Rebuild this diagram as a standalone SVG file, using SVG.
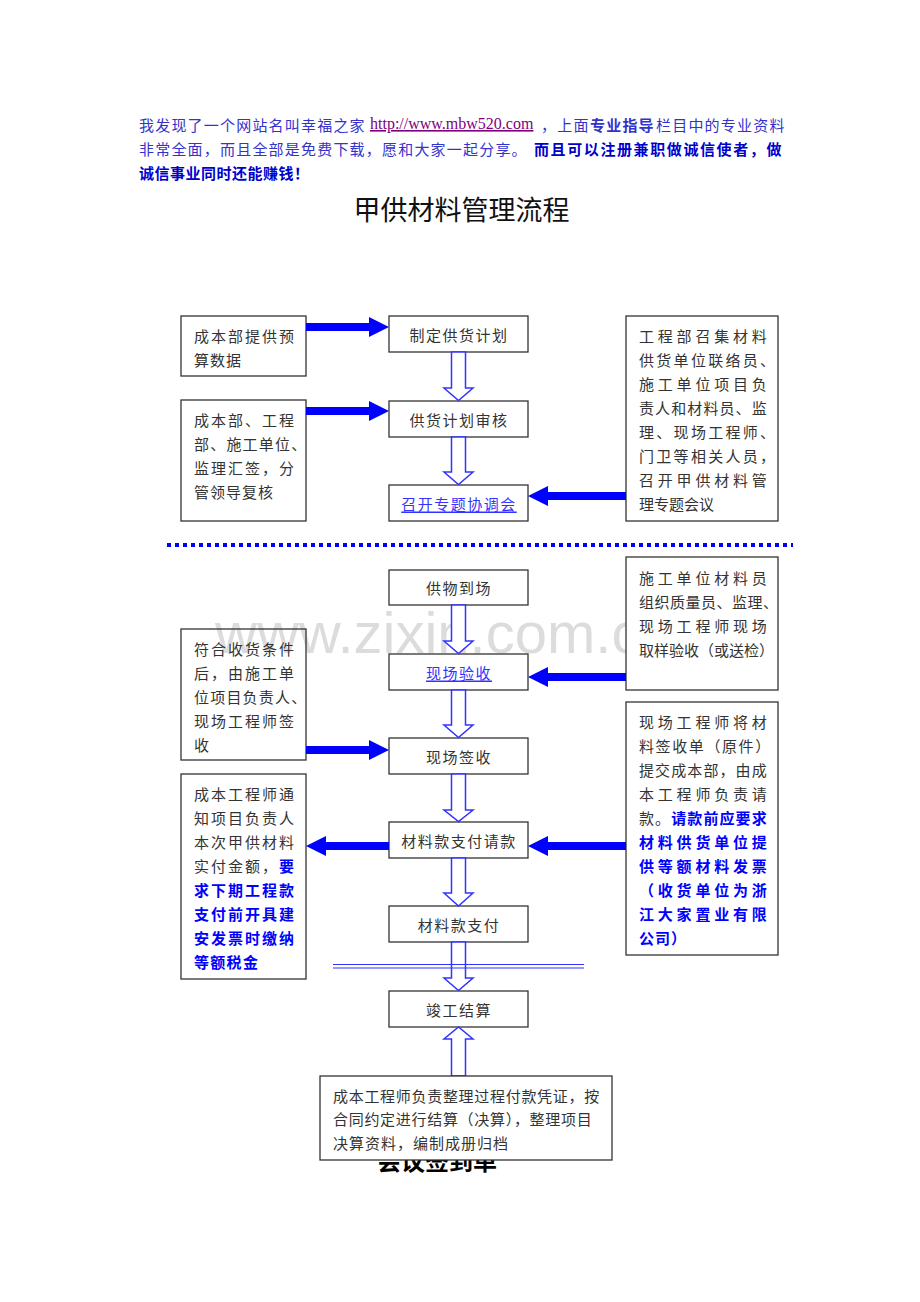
<svg xmlns="http://www.w3.org/2000/svg" width="920" height="1302" viewBox="0 0 920 1302">
<defs>
<style>
.box{fill:#fff;stroke:#333;stroke-width:1.3}
.boxn{fill:none;stroke:#333;stroke-width:1.3}
.t{font-family:"Noto Sans CJK SC",sans-serif;font-size:15px;fill:#333;dominant-baseline:central}
.c{text-anchor:middle;letter-spacing:1.5px}
.bb{font-weight:bold;fill:#0000ff}
.link{fill:#3333ff;text-decoration:underline}
.hd{font-family:"Noto Sans CJK SC",sans-serif;font-size:15px;fill:#3333cc;letter-spacing:1.2px;dominant-baseline:central}
.hb{font-weight:bold;fill:#0000cc}
.thick{fill:#0000ff}
.hollow{fill:#fff;stroke:#3333ff;stroke-width:1.5}
</style>
</defs>
<rect width="920" height="1302" fill="#fff"/>

<g id="watermark">
<text x="215" y="653" font-family="Liberation Sans, sans-serif" font-size="58" fill="#dcdcdc">www.zixin.com.cn</text>
</g>

<g id="header">
<text class="hd" x="139" y="124">我发现了一个网站名叫幸福之家</text>
<text x="370" y="129" font-family="Liberation Serif, serif" font-size="16" fill="#800080" text-decoration="underline">http://www.mbw520.com</text>
<text class="hd" x="541" y="124">，上面</text>
<text class="hd" x="590" y="124" font-weight="bold" fill="#ff6600">专业指导</text>
<text class="hd" x="656" y="124">栏目中的专业资料</text>
<text class="hd" x="139" y="148">非常全面，而且全部是免费下载，愿和大家一起分享。</text>
<text class="hd hb" x="534" y="148" style="letter-spacing:1.6px">而且可以注册兼职做诚信使者，做</text>
<text class="hd hb" x="139" y="172" style="letter-spacing:0.5px">诚信事业同时还能赚钱！</text>
</g>

<g id="title">
<text x="461.5" y="208" text-anchor="middle" font-family="Noto Sans CJK SC, sans-serif" font-size="27" fill="#111" dominant-baseline="central">甲供材料管理流程</text>
</g>

<g id="separator">
<line x1="167" y1="545" x2="793" y2="545" stroke="#0000ff" stroke-width="4" stroke-dasharray="4 4"/>
</g>

<g id="n-a1">
<rect class="box" x="181" y="316" width="125" height="60"/>
<text class="t" x="194" y="335" letter-spacing="2">成本部提供预</text>
<text class="t" x="194" y="359" letter-spacing="1">算数据</text>
</g>
<g id="n-a2">
<rect class="box" x="181" y="400" width="125" height="121"/>
<text class="t" x="194" y="419" letter-spacing="2">成本部、工程</text>
<text class="t" x="194" y="443" letter-spacing="1.2">部、施工单位、</text>
<text class="t" x="194" y="467" letter-spacing="2">监理汇签，分</text>
<text class="t" x="194" y="491" letter-spacing="1">管领导复核</text>
</g>
<g id="n-c1">
<rect class="box" x="389" y="316" width="139" height="36"/>
<text class="t c" x="459" y="334">制定供货计划</text>
</g>
<g id="n-c2">
<rect class="box" x="389" y="401" width="139" height="36"/>
<text class="t c" x="459" y="419">供货计划审核</text>
</g>
<g id="n-c3">
<rect class="box" x="389" y="485" width="139" height="36"/>
<text class="t c link" x="459" y="503">召开专题协调会</text>
</g>
<g id="n-r1">
<rect class="box" x="626" y="316" width="152" height="205"/>
<text class="t" x="639" y="335" letter-spacing="3.8">工程部召集材料</text>
<text class="t" x="639" y="359" letter-spacing="2.3">供货单位联络员、</text>
<text class="t" x="639" y="383" letter-spacing="3.8">施工单位项目负</text>
<text class="t" x="639" y="407" letter-spacing="1.1">责人和材料员、监</text>
<text class="t" x="639" y="431" letter-spacing="2.3">理、现场工程师、</text>
<text class="t" x="639" y="455" letter-spacing="2.3">门卫等相关人员，</text>
<text class="t" x="639" y="479" letter-spacing="3.8">召开甲供材料管</text>
<text class="t" x="639" y="503">理专题会议</text>
</g>

<g id="n-c4">
<rect class="box" x="389" y="570" width="139" height="35"/>
<text class="t c" x="459" y="587">供物到场</text>
</g>
<g id="n-l1">
<rect class="boxn" x="181" y="629" width="125" height="131"/>
<text class="t" x="194" y="648" letter-spacing="2">符合收货条件</text>
<text class="t" x="194" y="672" letter-spacing="2">后，由施工单</text>
<text class="t" x="194" y="696" letter-spacing="1.2">位项目负责人、</text>
<text class="t" x="194" y="720" letter-spacing="2">现场工程师签</text>
<text class="t" x="194" y="744">收</text>
</g>
<g id="n-r2">
<rect class="box" x="626" y="557" width="152" height="133"/>
<text class="t" x="639" y="577" letter-spacing="3.8">施工单位材料员</text>
<text class="t" x="639" y="601" letter-spacing="0.5">组织质量员、监理、</text>
<text class="t" x="639" y="625" letter-spacing="3.8">现场工程师现场</text>
<text class="t" x="639" y="649">取样验收（或送检）</text>
</g>
<g id="n-c5">
<rect class="box" x="389" y="654" width="139" height="36"/>
<text class="t c link" x="459" y="672">现场验收</text>
</g>
<g id="n-c6">
<rect class="box" x="389" y="738" width="139" height="36"/>
<text class="t c" x="459" y="756">现场签收</text>
</g>
<g id="n-c7">
<rect class="box" x="389" y="822" width="139" height="36"/>
<text class="t c" x="459" y="840">材料款支付请款</text>
</g>
<g id="n-c8">
<rect class="box" x="389" y="906" width="139" height="36"/>
<text class="t c" x="459" y="924">材料款支付</text>
</g>
<g id="n-c9">
<rect class="box" x="389" y="991" width="139" height="36"/>
<text class="t c" x="459" y="1009">竣工结算</text>
</g>
<g id="n-l2">
<rect class="box" x="181" y="774" width="125" height="205"/>
<text class="t" x="194" y="793" letter-spacing="2">成本工程师通</text>
<text class="t" x="194" y="817" letter-spacing="2">知项目负责人</text>
<text class="t" x="194" y="841" letter-spacing="2">本次甲供材料</text>
<text class="t" x="194" y="865" letter-spacing="2">实付金额，<tspan class="bb">要</tspan></text>
<text class="t bb" x="194" y="889" letter-spacing="2">求下期工程款</text>
<text class="t bb" x="194" y="913" letter-spacing="2">支付前开具建</text>
<text class="t bb" x="194" y="937" letter-spacing="2">安发票时缴纳</text>
<text class="t bb" x="194" y="961" letter-spacing="1.3">等额税金</text>
</g>
<g id="n-r3">
<rect class="box" x="626" y="702" width="152" height="253"/>
<text class="t" x="639" y="721" letter-spacing="3.8">现场工程师将材</text>
<text class="t" x="639" y="745" letter-spacing="1.6">料签收单（原件）</text>
<text class="t" x="639" y="769" letter-spacing="1.1">提交成本部，由成</text>
<text class="t" x="639" y="793" letter-spacing="3.8">本工程师负责请</text>
<text class="t" x="639" y="817" letter-spacing="1.1">款。<tspan class="bb">请款前应要求</tspan></text>
<text class="t bb" x="639" y="841" letter-spacing="3.8">材料供货单位提</text>
<text class="t bb" x="639" y="865" letter-spacing="3.8">供等额材料发票</text>
<text class="t bb" x="639" y="889" letter-spacing="3.8">（收货单位为浙</text>
<text class="t bb" x="639" y="913" letter-spacing="3.8">江大家置业有限</text>
<text class="t bb" x="639" y="937" letter-spacing="1">公司）</text>
</g>

<g id="connectors">
<polygon class="thick" points="306,323 369,323 369,317 389,327 369,337 369,331 306,331"/>
<polygon class="thick" points="306,407 369,407 369,401 389,411 369,421 369,415 306,415"/>
<polygon class="thick" points="626,492 548,492 548,486 528,496 548,506 548,500 626,500"/>
<polygon class="thick" points="626,673 548,673 548,667 528,677 548,687 548,681 626,681"/>
<polygon class="thick" points="306,746 369,746 369,740 389,750 369,760 369,754 306,754"/>
<polygon class="thick" points="389,842 326,842 326,836 306,846 326,856 326,850 389,850"/>
<polygon class="thick" points="626,842 548,842 548,836 528,846 548,856 548,850 626,850"/>
<polygon class="hollow" points="451.5,352 465.5,352 465.5,388 473,388 458.5,400.5 444,388 451.5,388"/>
<polygon class="hollow" points="451.5,437 465.5,437 465.5,472 473,472 458.5,484.5 444,472 451.5,472"/>
<polygon class="hollow" points="451.5,605 465.5,605 465.5,641 473,641 458.5,653.5 444,641 451.5,641"/>
<polygon class="hollow" points="451.5,690 465.5,690 465.5,725 473,725 458.5,737.5 444,725 451.5,725"/>
<polygon class="hollow" points="451.5,774 465.5,774 465.5,810 473,810 458.5,821.5 444,810 451.5,810"/>
<polygon class="hollow" points="451.5,858 465.5,858 465.5,893 473,893 458.5,906 444,893 451.5,893"/>
<polygon class="hollow" points="451.5,942 465.5,942 465.5,978 473,978 458.5,990.5 444,978 451.5,978"/>
<polygon class="hollow" points="451.5,1076 465.5,1076 465.5,1039 473,1039 458.5,1027 444,1039 451.5,1039"/>
<line x1="333" y1="964.5" x2="584" y2="964.5" stroke="#3333ff" stroke-width="1.2"/>
<line x1="333" y1="968" x2="584" y2="968" stroke="#3333ff" stroke-width="1.2"/>
</g>

<g id="signin">
<text x="437" y="1170" text-anchor="middle" font-family="Noto Sans CJK SC, sans-serif" font-size="24" font-weight="bold" fill="#000">会议签到单</text>
</g>
<g id="n-b">
<rect class="box" x="320" y="1076" width="292" height="84"/>
<text class="t" x="333" y="1095" letter-spacing="0.7">成本工程师负责整理过程付款凭证，按</text>
<text class="t" x="333" y="1118" letter-spacing="0.7">合同约定进行结算（决算），整理项目</text>
<text class="t" x="333" y="1142" letter-spacing="1">决算资料，编制成册归档</text>
</g>
</svg>
